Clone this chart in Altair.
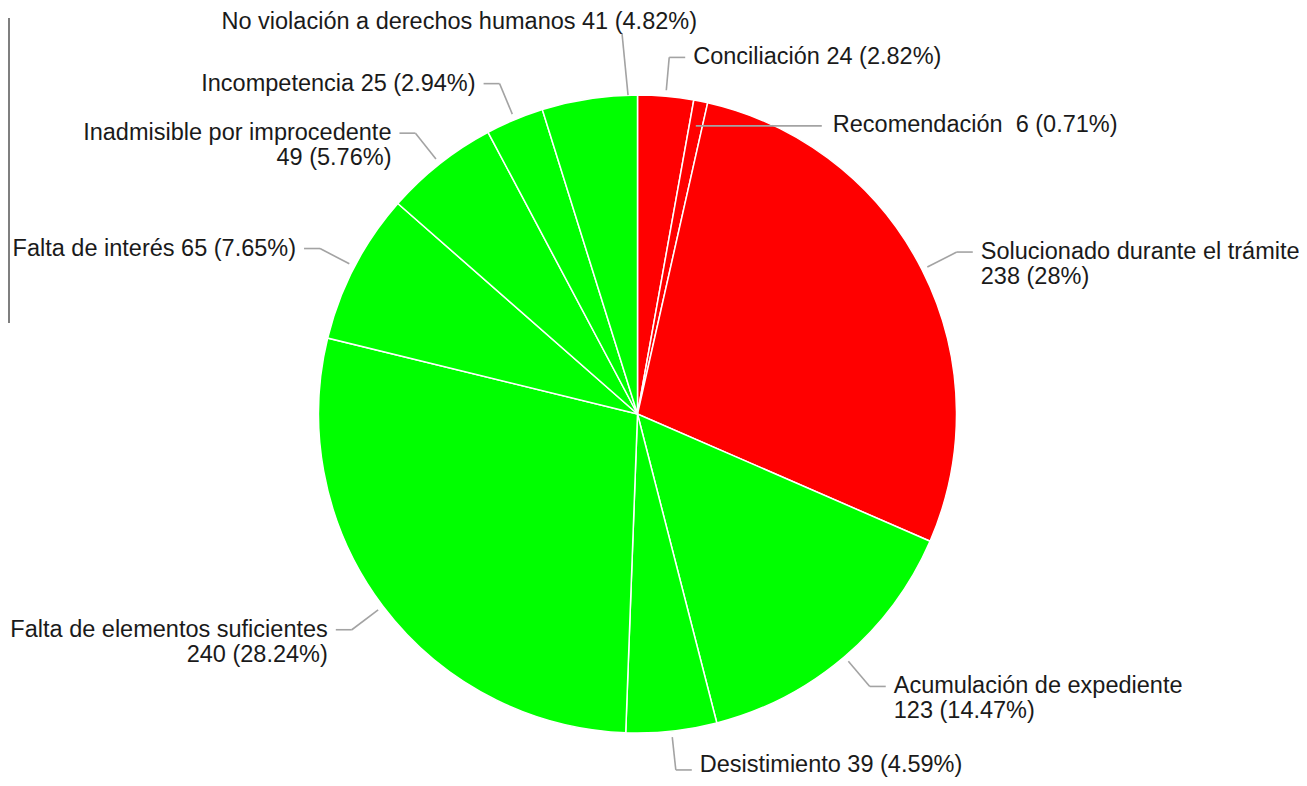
import math
import altair as alt
import pandas as pd

# ---- data ----
names = [
    "Conciliación",
    "Recomendación",
    "Solucionado durante el trámite",
    "Acumulación de expediente",
    "Desistimiento",
    "Falta de elementos suficientes",
    "Falta de interés",
    "Inadmisible por improcedente",
    "Incompetencia",
    "No violación a derechos humanos",
]
values = [24, 6, 238, 123, 39, 240, 65, 49, 25, 41]
colors = ["#ff0000", "#ff0000", "#ff0000",
          "#00ff00", "#00ff00", "#00ff00", "#00ff00", "#00ff00", "#00ff00", "#00ff00"]
name_sep = [" ", "\u00a0 ", "\n", "\n", " ", "\n", " ", "\n", " ", " "]

# ---- layout ----
W, H = 1291, 770
CX, CY = 629.5, 406.0
R = 319
R_START, R_ELBOW = 325, 358
HSEG, TGAP = 16, 8
FONT = "Liberation Sans"
FS = 23.5

total = sum(values)
cum = 0
rows, segs, texts = [], [], []


def pt(angle_deg, r):
    a = math.radians(angle_deg)
    return CX + r * math.sin(a), CY - r * math.cos(a)


for i, (n, v) in enumerate(zip(names, values)):
    a0 = cum / total * 360
    cum += v
    a1 = cum / total * 360
    mid = (a0 + a1) / 2
    pct = f"{round(v / total * 100, 2):g}%"
    label = f"{n}{name_sep[i]}{v} ({pct})"
    rows.append({"idx": i, "name": n, "value": v})

    if n == "Recomendación":
        sx, sy = pt(mid, 294)
        ex, ey = sx + 126, sy
        segs.append({"x": sx, "y": sy, "x2": ex, "y2": ey})
        texts.append({"label": label, "x": ex + 11, "y": ey - 1, "side": "left"})
    elif n == "No violación a derechos humanos":
        sx, sy = pt(358.3, R)
        ex, ey = pt(357.67, 381)
        segs.append({"x": sx, "y": sy, "x2": ex, "y2": ey})
        texts.append({"label": label, "x": ex + 75, "y": ey - 11, "side": "right"})
    else:
        sx, sy = pt(mid, R_START)
        bx, by = pt(mid, R_ELBOW)
        side = 1 if mid < 180 else -1
        ex = bx + side * HSEG
        segs.append({"x": sx, "y": sy, "x2": bx, "y2": by})
        segs.append({"x": bx, "y": by, "x2": ex, "y2": by})
        ty = by if by < H - 12 else H - 13
        texts.append({"label": label, "x": ex + side * TGAP, "y": ty,
                      "side": "left" if side > 0 else "right"})

df = pd.DataFrame(rows)
seg_df = pd.DataFrame(segs)
txt_df = pd.DataFrame(texts)

xs = alt.Scale(domain=[0, W], nice=False, zero=False)
ys = alt.Scale(domain=[H, 0], nice=False, zero=False)

pie = alt.Chart(df).mark_arc(radius=R, stroke="white", strokeWidth=1.5).encode(
    theta=alt.Theta("value:Q", stack=True),
    order=alt.Order("idx:Q"),
    color=alt.Color("name:N", scale=alt.Scale(domain=names, range=colors), legend=None),
    x=alt.value(CX),
    y=alt.value(CY),
)

leaders = alt.Chart(seg_df).mark_rule(color="#a3a3a3", strokeWidth=1.6).encode(
    x=alt.X("x:Q", scale=xs, axis=None),
    y=alt.Y("y:Q", scale=ys, axis=None),
    x2="x2:Q",
    y2="y2:Q",
)


def text_layer(side):
    return alt.Chart(txt_df[txt_df.side == side]).mark_text(
        align=side, baseline="middle", font=FONT, fontSize=FS,
        lineBreak="\n", lineHeight=25, color="#1a1a1a",
    ).encode(
        x=alt.X("x:Q", scale=xs, axis=None),
        y=alt.Y("y:Q", scale=ys, axis=None),
        text="label:N",
    )


# fragment of a frame at the far left edge
frame = alt.Chart(pd.DataFrame({"k": [0]})).mark_rule(color="#555555", strokeWidth=1.5).encode(
    x=alt.value(1), x2=alt.value(1), y=alt.value(10), y2=alt.value(315)
)

chart = alt.layer(pie, leaders, text_layer("left"), text_layer("right"), frame).properties(
    width=W, height=H, padding=0, autosize=alt.AutoSizeParams(type="none")
).configure_view(stroke=None)

chart.save("out.html", embed_options={"renderer": "svg", "actions": False})
